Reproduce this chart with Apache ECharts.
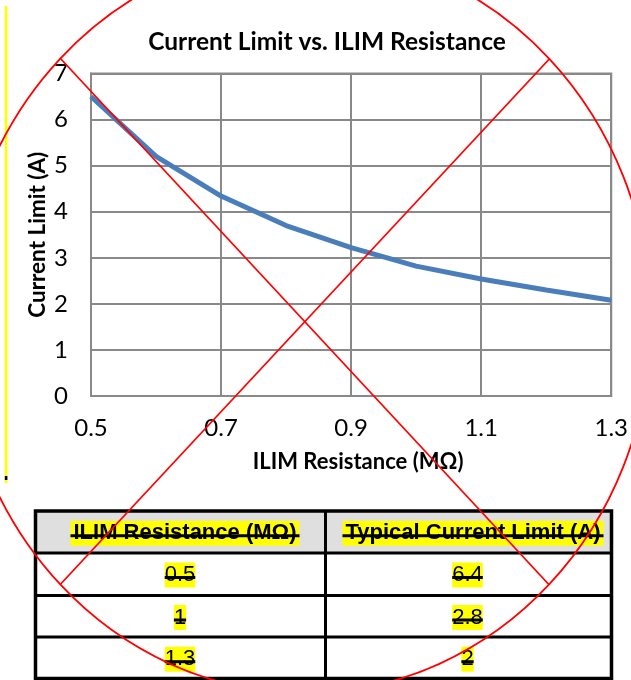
<!DOCTYPE html>
<html>
<head>
<meta charset="utf-8">
<script src="https://cdn.jsdelivr.net/npm/echarts@6/dist/echarts.min.js"></script>
<style>
html,body{margin:0;padding:0;background:#fff;}
#chart{width:631px;height:680px;}
</style>
</head>
<body>
<div id="chart"></div>
<script>
// ---- data ----
const resistance = ['0.5','0.6','0.7','0.8','0.9','1.0','1.1','1.2','1.3'];
const currentLimit = [6.5, 5.2, 4.34, 3.7, 3.22, 2.82, 2.54, 2.3, 2.08];
const chartTitle = 'Current Limit vs. ILIM Resistance';
const xName = 'ILIM Resistance (MΩ)';
const yName = 'Current Limit (A)';
const tableHeaders = ['ILIM Resistance (MΩ)', 'Typical Current Limit (A)'];
const tableResistance = ['0.5', '1', '1.3'];
const tableCurrent = ['6.4', '2.8', '2'];

// ---- helpers ----
const mctx = document.createElement('canvas').getContext('2d');
function tw(text, font){ mctx.font = font; return mctx.measureText(text).width; }

const chart = echarts.init(document.getElementById('chart'), null, {renderer:'canvas'});

const graphics = [];
// title
graphics.push({type:'text', x:327, y:42, style:{text:chartTitle, font:'bold 24.5px Lato', fill:'#000', align:'center', verticalAlign:'middle'}});

// table geometry
const tL = 35.5, tR = 611.5, tT = 511, tB = 678.5, colX = 325.5;
const rowY = [553, 595.5, 637];
graphics.push({type:'rect', shape:{x:tL, y:tT, width:tR-tL, height:rowY[0]-tT}, style:{fill:'#dfdfdf'}});
graphics.push({type:'rect', shape:{x:tL, y:tT, width:tR-tL, height:tB-tT}, style:{fill:null, stroke:'#000', lineWidth:3.5}});
rowY.forEach(y => graphics.push({type:'line', shape:{x1:tL, y1:y, x2:tR, y2:y}, style:{stroke:'#000', lineWidth:3}}));
graphics.push({type:'line', shape:{x1:colX, y1:tT, x2:colX, y2:tB}, style:{stroke:'#000', lineWidth:3}});

function cellText(text, cx, cy, bold){
  const font = (bold ? 'bold ' : '') + '22px "Liberation Sans", Arial';
  const pad = bold ? 3 : 0;
  const w = tw(text, font) + pad*2;
  graphics.push({type:'text', x:cx, y:cy, z:5, style:{text:text, font:font, fill:'#000', align:'center', verticalAlign:'middle', backgroundColor:'#ffff00', padding:[0,pad], lineHeight:25}});
  graphics.push({type:'rect', z:6, shape:{x:cx - w/2, y:cy + 1, width:w, height:3}, style:{fill:'#000'}});
}
cellText(tableHeaders[0], 185, 533.3, true);
cellText(tableHeaders[1], 473, 533.3, true);
const rowCenters = [575, 617.5, 659.2];
for (let i = 0; i < tableResistance.length; i++){
  cellText(tableResistance[i], 180, rowCenters[i], false);
  cellText(tableCurrent[i], 467.5, rowCenters[i], false);
}

// yellow margin bar
graphics.push({type:'rect', z:50, shape:{x:4.8, y:6, width:2.6, height:477}, style:{fill:'#ffff00'}});
graphics.push({type:'rect', z:51, shape:{x:4.8, y:476, width:2.6, height:4}, style:{fill:'#000'}});

// red overlays
graphics.push({type:'ellipse', z:100, shape:{cx:304.7, cy:321.5, rx:346, ry:371.5}, style:{fill:null, stroke:'#ff0000', lineWidth:1.8}});
graphics.push({type:'line', z:100, shape:{x1:60, y1:58, x2:549.3, y2:585}, style:{stroke:'#ff0000', lineWidth:1.8}});
graphics.push({type:'line', z:100, shape:{x1:549.3, y1:59, x2:60.7, y2:584}, style:{stroke:'#ff0000', lineWidth:1.8}});

const option = {
  animation:false,
  backgroundColor:'#fff',
  grid:{left:91, right:16.5, top:73.5, bottom:284, show:true, borderColor:'#898989', borderWidth:2, containLabel:false},
  xAxis:{
    type:'category', data:resistance, boundaryGap:false,
    name:xName, nameLocation:'middle', nameGap:55,
    nameTextStyle:{fontFamily:'Lato', fontWeight:'bold', fontSize:22, color:'#000', padding:[0,0,0,14]},
    axisLine:{show:true, lineStyle:{color:'#898989', width:2}},
    axisTick:{show:false},
    axisLabel:{interval:1, margin:20, fontFamily:'Lato', fontSize:24, color:'#000', showMaxLabel:true},
    splitLine:{show:true, interval:1, lineStyle:{color:'#898989', width:2}}
  },
  yAxis:{
    type:'value', min:0, max:7, interval:1,
    name:yName, nameLocation:'middle', nameGap:42, nameRotate:90, nameMoveOverlap:false,
    nameTextStyle:{fontFamily:'Lato', fontWeight:'bold', fontSize:22.5, color:'#000'},
    axisLine:{show:true, lineStyle:{color:'#898989', width:2}},
    axisTick:{show:false},
    axisLabel:{margin:23, fontFamily:'Lato', fontSize:24, color:'#000'},
    splitLine:{show:true, lineStyle:{color:'#898989', width:2}}
  },
  series:[{
    type:'line', data:currentLimit, showSymbol:false, symbol:'none', smooth:false,
    lineStyle:{color:'#4a7ebb', width:5}, z:3
  }],
  graphic:{elements:graphics}
};
chart.setOption(option);
</script>
</body>
</html>
